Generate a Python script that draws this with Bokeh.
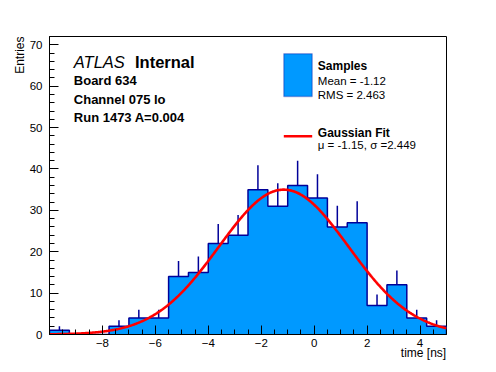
import numpy as np
from bokeh.plotting import figure
from bokeh.models import Label, FixedTicker, Range1d, BoxAnnotation, CustomJSTickFormatter, ColumnDataSource, Title
from bokeh.embed import file_html
from bokeh.resources import INLINE

# ---- data ----
BIN_EDGES = [-10.0, -9.25, -8.5, -7.75, -7.0, -6.25, -5.5, -4.75, -4.0, -3.25, -2.5,
             -1.75, -1.0, -0.25, 0.5, 1.25, 2.0, 2.75, 3.5, 4.25, 5.0]
COUNTS = [1, 0, 0, 2, 4, 4, 14, 15, 22, 24, 35, 31, 36, 33, 26, 27, 7, 12, 4, 2]
FIT_CONST = 35.0
FIT_MU = -1.15
FIT_SIGMA = 2.449
X_TICKS = [-8, -6, -4, -2, 0, 2, 4]
Y_TICKS = [0, 10, 20, 30, 40, 50, 60, 70]

FILL = "#0099ff"
EDGE = "#000099"
FONT = "Liberation Sans"

edges = np.array(BIN_EDGES)
counts = np.array(COUNTS, dtype=float)
left, right = edges[:-1], edges[1:]
centers = 0.5 * (left + right)

# staircase outline
sx = [edges[0]]
sy = [0.0]
for l, r, c in zip(left, right, counts):
    sx += [l, r]
    sy += [c, c]
sx.append(edges[-1])
sy.append(0.0)

mask = counts > 0
err_src = ColumnDataSource(dict(x=centers[mask], y0=counts[mask], y1=counts[mask] + np.sqrt(counts[mask])))

fx = np.linspace(edges[0], edges[-1], 400)
fy = FIT_CONST * np.exp(-0.5 * ((fx - FIT_MU) / FIT_SIGMA) ** 2)

p = figure(width=496, height=372, output_backend="svg", toolbar_location=None,
           x_range=Range1d(-10, 5), y_range=Range1d(0, 72),
           min_border_left=49, min_border_right=50, min_border_top=36, min_border_bottom=38)
p.grid.visible = False
p.outline_line_color = "black"
p.outline_line_width = 1
p.background_fill_color = "white"
p.border_fill_color = "white"

p.patch(sx, sy, fill_color=FILL, line_color=None)
p.line(sx, sy, line_color=EDGE, line_width=1.5)
p.segment(x0="x", y0="y0", x1="x", y1="y1", source=err_src, line_color=EDGE, line_width=1.5)
p.line(fx, fy, line_color="red", line_width=2.6)

fmt = CustomJSTickFormatter(code="return tick < 0 ? '\u2212' + (-tick) : '' + tick;")
for ax in (p.xaxis[0], p.yaxis[0]):
    ax.major_tick_in = 9
    ax.major_tick_out = 0
    ax.minor_tick_in = 5
    ax.minor_tick_out = 0
    ax.axis_line_color = "black"
    ax.major_tick_line_color = "black"
    ax.minor_tick_line_color = "black"
    ax.major_label_text_font = FONT
    ax.major_label_text_font_size = "11.5px"
    ax.major_label_text_color = "black"
    ax.formatter = fmt
p.xaxis[0].ticker = FixedTicker(ticks=X_TICKS, minor_ticks=list(np.arange(-10, 5.01, 0.5)))
p.yaxis[0].ticker = FixedTicker(ticks=Y_TICKS, minor_ticks=list(range(0, 73, 2)))
p.xaxis[0].major_label_standoff = 4
p.yaxis[0].major_label_standoff = 7

# x title at the right end of the axis (label is centred on the end point,
# so trailing non-collapsing spaces shift the visible text left of it)
xa = p.xaxis[0]
xa.axis_label = "time [ns]" + "\u2003\u2003\u2003\u00a0\u00a0\u00a0"
xa.axis_label_align = "end"
xa.axis_label_standoff = -4
xa.axis_label_text_font = FONT
xa.axis_label_text_font_size = "12px"
xa.axis_label_text_font_style = "normal"
xa.axis_label_text_color = "black"

# y title at the top end of the axis
p.add_layout(Title(text="Entries", align="right", text_font=FONT, text_font_size="12px",
                   text_font_style="normal", text_color="black", standoff=0), "left")

# pixel -> data helpers for annotations (page pixel coords)
def dx(px):
    return -10 + (px - 49.0) * 15 / (446 - 49.0)

def dy(py):
    return (334.0 - py) * 72 / (334.0 - 36.0)

def lab(x, y, text, size, style="normal", align="left", angle=0):
    p.add_layout(Label(x=dx(x), y=dy(y), text=text, text_font=FONT, text_font_size=size,
                       text_font_style=style, text_align=align, text_baseline="alphabetic",
                       angle=angle, text_color="black"))

lab(73.3, 61.7, "ATLAS", "16.5px", "italic")
lab(134.5, 61.7, "Internal", "16.5px", "bold")
lab(73.3, 80.0, "Board 634", "13px", "bold")
lab(73.3, 98.7, "Channel 075 lo", "13px", "bold")
lab(73.3, 117.0, "Run 1473 A=0.004", "13px", "bold")

# legend
p.add_layout(BoxAnnotation(left=dx(283.3), right=dx(311.7), top=dy(53.3), bottom=dy(96),
                           fill_color=FILL, fill_alpha=1, line_color=EDGE, line_width=1.5))
p.add_layout(BoxAnnotation(left=dx(283.3), right=dx(311.7), top=dy(134.5), bottom=dy(137),
                           fill_color="red", fill_alpha=1, line_color=None))
lab(317.3, 65.0, "Samples", "12px", "bold")
lab(317.3, 80.5, "Mean = -1.12", "11.5px")
lab(317.3, 94.0, "RMS = 2.463", "11.5px")
lab(317.3, 132.3, "Gaussian Fit", "12px", "bold")
lab(317.3, 144.5, "\u03bc = -1.15, \u03c3 =2.449", "11.5px")

open("out.html", "w").write(file_html(p, INLINE))
